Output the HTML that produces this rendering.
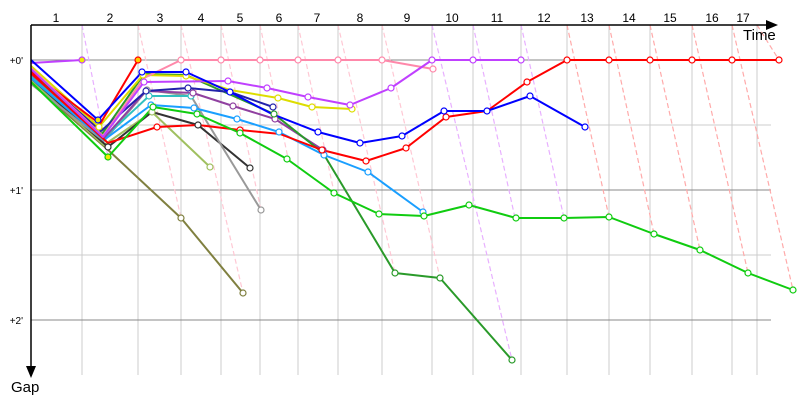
<!DOCTYPE html>
<html><head><style>body{margin:0;background:#fff}svg{display:block;font-family:"Liberation Sans",sans-serif}</style></head><body>
<svg width="800" height="400" viewBox="0 0 800 400" xmlns="http://www.w3.org/2000/svg">
<rect width="800" height="400" fill="#fff"/>
<g stroke="#ccc" stroke-width="1">
<line x1="82" y1="25" x2="82" y2="375"/><line x1="138" y1="25" x2="138" y2="375"/><line x1="181" y1="25" x2="181" y2="375"/><line x1="221" y1="25" x2="221" y2="375"/><line x1="260" y1="25" x2="260" y2="375"/><line x1="298" y1="25" x2="298" y2="375"/><line x1="338" y1="25" x2="338" y2="375"/><line x1="382" y1="25" x2="382" y2="375"/><line x1="432" y1="25" x2="432" y2="375"/><line x1="473" y1="25" x2="473" y2="375"/><line x1="521" y1="25" x2="521" y2="375"/><line x1="567" y1="25" x2="567" y2="375"/><line x1="609" y1="25" x2="609" y2="375"/><line x1="650" y1="25" x2="650" y2="375"/><line x1="692" y1="25" x2="692" y2="375"/><line x1="732" y1="25" x2="732" y2="375"/><line x1="757" y1="25" x2="757" y2="375"/>
<line x1="31" y1="125" x2="771" y2="125"/><line x1="31" y1="255" x2="771" y2="255"/>
</g>
<g stroke="#888" stroke-width="1">
<line x1="31" y1="60" x2="771" y2="60"/><line x1="31" y1="190" x2="771" y2="190"/><line x1="31" y1="320" x2="771" y2="320"/>
</g>
<g fill="none" stroke-width="1.2" stroke-dasharray="5,3">
<g stroke="#e8b0ff"><line x1="82" y1="25" x2="108" y2="157"/><line x1="432" y1="25" x2="512" y2="360"/><line x1="473" y1="25" x2="515" y2="218"/><line x1="521" y1="25" x2="564" y2="218"/></g>
<g stroke="#ffc8d4"><line x1="138" y1="25" x2="181" y2="218"/><line x1="181" y1="25" x2="243" y2="293"/><line x1="221" y1="25" x2="261" y2="210"/><line x1="260" y1="25" x2="288" y2="158"/><line x1="298" y1="25" x2="334" y2="192"/><line x1="338" y1="25" x2="395" y2="273"/><line x1="382" y1="25" x2="440" y2="278"/></g>
<g stroke="#ffaaaa"><line x1="567" y1="25" x2="609" y2="217"/><line x1="609" y1="25" x2="654" y2="234"/><line x1="650" y1="25" x2="700" y2="250"/><line x1="692" y1="25" x2="748" y2="273"/><line x1="732" y1="25" x2="793" y2="290"/><line x1="757" y1="25" x2="779" y2="60"/></g>
</g>
<g fill="none" stroke-width="2" stroke-linejoin="round">
<polyline stroke="#808040" points="31,83 106,148 181,218 243,293"/>
<polyline stroke="#a0c060" points="31,80 104,145 152,112 210,167"/>
<polyline stroke="#333" points="31,78 108,147 152,112 198,125 250,168"/>
<polyline stroke="#999" points="31,84 104,141 147,90 191,96 261,210"/>
<polyline stroke="#30c0c0" points="31,76 103,139 149,96 191,96"/>
<polyline stroke="#1a9fff" points="31,78 104,140 151,105 194,108 237,119 279,132 324,155 368,172 423,212"/>
<polyline stroke="#9040a0" points="31,74 104,138 146,91 193,93 233,106 275,119 323,150"/>
<polyline stroke="#2a9a2a" points="31,72 102,134 144,74 186,75 274,114 323,153 395,273 440,278 512,360"/>
<polyline stroke="#2222aa" points="31,70 101,131 146,91 188,88 230,92 273,107"/>
<polyline stroke="#dddd00" points="31,66 99,127 143,75 186,76 230,90 278,98 312,107 352,109"/>
<polyline stroke="#ff0000" points="31,73 108,143 157,127 198,125 240,130 280,134 322,150 366,161 406,148 446,117 487,111 527,82 567,60 609,60 650,60 692,60 732,60 779,60"/>
<polyline stroke="#ff0000" points="31,72 100,124 138,60"/>
<polyline stroke="#ff88aa" points="31,68 103,136 144,78 181,60 221,60 260,60 298,60 338,60 382,60 433,69"/>
<polyline stroke="#c040ff" points="31,63 82,60"/>
<polyline stroke="#c040ff" points="31,69 103,137 144,82 228,81 267,88 308,97 350,105 391,88 432,60 473,60 521,60"/>
<polyline stroke="#0000ff" points="31,60 98,120 142,72 186,72 230,92 272,114 318,132 360,143 402,136 444,111 487,111 530,96 585,127"/>
<polyline stroke="#10cc10" points="31,82 108,157 153,107 197,114 240,133 287,159 334,193 379,214 424,216 469,205 516,218 564,218 609,217 654,234 700,250 748,273 793,290"/>
</g>
<g fill="#fff" stroke-width="1.2">
<g stroke="#808040"><circle cx="181" cy="218" r="3"/><circle cx="243" cy="293" r="3"/></g>
<g stroke="#a0c060"><circle cx="152" cy="112" r="3"/><circle cx="210" cy="167" r="3"/></g>
<g stroke="#333"><circle cx="108" cy="147" r="3"/><circle cx="198" cy="125" r="3"/><circle cx="250" cy="168" r="3"/></g>
<g stroke="#999"><circle cx="147" cy="90" r="3"/><circle cx="261" cy="210" r="3"/></g>
<g stroke="#30c0c0"><circle cx="149" cy="96" r="3"/><circle cx="191" cy="96" r="3"/></g>
<g stroke="#1a9fff"><circle cx="151" cy="105" r="3"/><circle cx="194" cy="108" r="3"/><circle cx="237" cy="119" r="3"/><circle cx="279" cy="132" r="3"/><circle cx="324" cy="155" r="3"/><circle cx="368" cy="172" r="3"/><circle cx="423" cy="212" r="3"/></g>
<g stroke="#9040a0"><circle cx="193" cy="93" r="3"/><circle cx="233" cy="106" r="3"/><circle cx="275" cy="119" r="3"/><circle cx="323" cy="150" r="3"/></g>
<g stroke="#2a9a2a"><circle cx="274" cy="114" r="3"/><circle cx="395" cy="273" r="3"/><circle cx="440" cy="278" r="3"/><circle cx="512" cy="360" r="3"/></g>
<g stroke="#2222aa"><circle cx="146" cy="91" r="3"/><circle cx="188" cy="88" r="3"/><circle cx="273" cy="107" r="3"/></g>
<g stroke="#dddd00"><circle cx="143" cy="75" r="3"/><circle cx="186" cy="76" r="3"/><circle cx="278" cy="98" r="3"/><circle cx="312" cy="107" r="3"/><circle cx="352" cy="109" r="3"/><circle cx="99" cy="127" r="3"/></g>
<g stroke="#ff0000"><circle cx="157" cy="127" r="3"/><circle cx="240" cy="130" r="3"/><circle cx="322" cy="150" r="3"/><circle cx="366" cy="161" r="3"/><circle cx="406" cy="148" r="3"/><circle cx="446" cy="117" r="3"/><circle cx="527" cy="82" r="3"/><circle cx="567" cy="60" r="3"/><circle cx="609" cy="60" r="3"/><circle cx="650" cy="60" r="3"/><circle cx="692" cy="60" r="3"/><circle cx="732" cy="60" r="3"/><circle cx="779" cy="60" r="3"/><circle cx="138" cy="60" r="3" fill="#fc0"/></g>
<g stroke="#ff88aa"><circle cx="181" cy="60" r="3"/><circle cx="221" cy="60" r="3"/><circle cx="260" cy="60" r="3"/><circle cx="298" cy="60" r="3"/><circle cx="338" cy="60" r="3"/><circle cx="382" cy="60" r="3"/><circle cx="433" cy="69" r="3"/></g>
<g stroke="#c040ff"><circle cx="82" cy="60" r="3" fill="#ee0"/><circle cx="144" cy="82" r="3"/><circle cx="228" cy="81" r="3"/><circle cx="267" cy="88" r="3"/><circle cx="308" cy="97" r="3"/><circle cx="350" cy="105" r="3"/><circle cx="391" cy="88" r="3"/><circle cx="432" cy="60" r="3"/><circle cx="473" cy="60" r="3"/><circle cx="521" cy="60" r="3"/></g>
<g stroke="#0000ff"><circle cx="142" cy="72" r="3"/><circle cx="186" cy="72" r="3"/><circle cx="230" cy="92" r="3"/><circle cx="318" cy="132" r="3"/><circle cx="360" cy="143" r="3"/><circle cx="402" cy="136" r="3"/><circle cx="444" cy="111" r="3"/><circle cx="487" cy="111" r="3"/><circle cx="530" cy="96" r="3"/><circle cx="585" cy="127" r="3"/><circle cx="98" cy="120" r="3" fill="#ee0"/></g>
<g stroke="#10cc10"><circle cx="108" cy="157" r="3" fill="#ee0"/><circle cx="153" cy="107" r="3"/><circle cx="197" cy="114" r="3"/><circle cx="240" cy="133" r="3"/><circle cx="287" cy="159" r="3"/><circle cx="334" cy="193" r="3"/><circle cx="379" cy="214" r="3"/><circle cx="424" cy="216" r="3"/><circle cx="469" cy="205" r="3"/><circle cx="516" cy="218" r="3"/><circle cx="564" cy="218" r="3"/><circle cx="609" cy="217" r="3"/><circle cx="654" cy="234" r="3"/><circle cx="700" cy="250" r="3"/><circle cx="748" cy="273" r="3"/><circle cx="793" cy="290" r="3"/></g>
</g>
<g stroke="#000" stroke-width="1.5"><line x1="31" y1="25" x2="768" y2="25"/><line x1="31" y1="25" x2="31" y2="368"/></g>
<polygon points="766,20 778,25 766,30" fill="#000"/>
<polygon points="26,366 31,378 36,366" fill="#000"/>
<g font-size="12" fill="#000" text-anchor="middle">
<text x="56" y="22">1</text><text x="110" y="22">2</text><text x="160" y="22">3</text><text x="201" y="22">4</text><text x="240" y="22">5</text><text x="279" y="22">6</text><text x="317" y="22">7</text><text x="360" y="22">8</text><text x="407" y="22">9</text><text x="452" y="22">10</text><text x="497" y="22">11</text><text x="544" y="22">12</text><text x="587" y="22">13</text><text x="629" y="22">14</text><text x="670" y="22">15</text><text x="712" y="22">16</text><text x="743" y="22">17</text>
</g>
<text x="743" y="40" font-size="15">Time</text>
<text x="11" y="392" font-size="15">Gap</text>
<g font-size="10" text-anchor="end"><text x="23" y="64">+0'</text><text x="23" y="194">+1'</text><text x="23" y="324">+2'</text></g>
</svg>
</body></html>
